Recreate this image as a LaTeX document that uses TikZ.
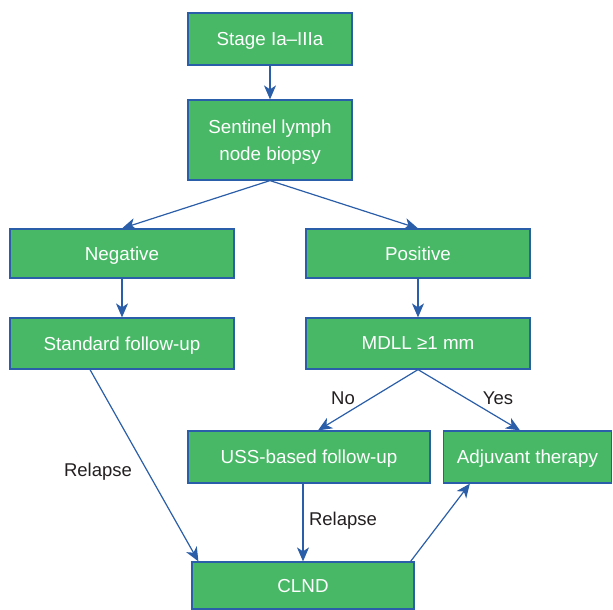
\documentclass[tikz,border=0pt]{standalone}
\usepackage{fontspec}
\setmainfont{Liberation Sans}
\usetikzlibrary{calc,arrows.meta,positioning}
\definecolor{boxgreen}{HTML}{48B866}
\definecolor{boxblue}{HTML}{2A5EA8}
\definecolor{txtgray}{HTML}{231F20}

\begin{document}
\begin{tikzpicture}[x=1pt,y=-1pt,
    stepbox/.style={draw=boxblue,line width=1.2pt,fill=boxgreen,text=white,
        inner sep=0pt,text depth=0pt,align=center,font=\fontsize{18.8}{27}\selectfont},
    flow/.style={draw=boxblue,line width=1.2pt,-{Stealth[length=14pt,width=12pt,inset=4pt]}},
    lbl/.style={text=txtgray,font=\fontsize{18.5}{20}\selectfont}]
            \useasboundingbox (0,0) rectangle (613,610);
            %\draw (0,0) rectangle (613,610);

            \node [stepbox,minimum width=164,minimum height=52] (stage) at (270,39) {Stage Ia–IIIa};
            \node [stepbox,minimum width=164,minimum height=80] (sln) at (270,140) {Sentinel lymph\\node biopsy};
            \node [stepbox,minimum width=224,minimum height=49] (neg) at (122,253.5) {Negative};
            \node [stepbox,minimum width=224,minimum height=49] (pos) at (418,253.5) {Positive};
            \node [stepbox,minimum width=224,minimum height=51] (std) at (122,343.5) {Standard follow-up};
            \node [stepbox,minimum width=224,minimum height=51] (mdll) at (418,343.5) {MDLL ≥1 mm};
            \node [stepbox,minimum width=242,minimum height=52] (uss) at (309,457) {USS-based follow-up};
            \node [stepbox,minimum width=168,minimum height=52] (adj) at (527.5,457) {Adjuvant therapy};
            \node [stepbox,minimum width=222,minimum height=47] (clnd) at (303,585.5) {CLND};

            \draw [flow] (stage) -- (sln);
            \draw [flow] (sln.south) -- (neg.north);
            \draw [flow] (sln.south) -- (pos.north);
            \draw [flow] (neg) -- (std);
            \draw [flow] (pos) -- (mdll);
            \draw [flow] ([xshift=-32]std.south) -- ([xshift=7]clnd.north west);
            \draw [flow] (mdll.south) -- ([xshift=9]uss.north);
            \draw [flow] (mdll.south) -- ([xshift=-7.5]adj.north);
            \draw [flow] (uss.south -| clnd.north) -- (clnd.north);
            \draw [flow] ([xshift=-4]clnd.north east) -- ([xshift=27]adj.south west);

            \node [lbl] (rel1) at (98,472) {Relapse};
            \node [lbl] (no) at (343,398) {No};
            \node [lbl] (yes) at (498,398) {Yes};
            \node [lbl] (rel2) at (343,521) {Relapse};
\end{tikzpicture}
\end{document}
